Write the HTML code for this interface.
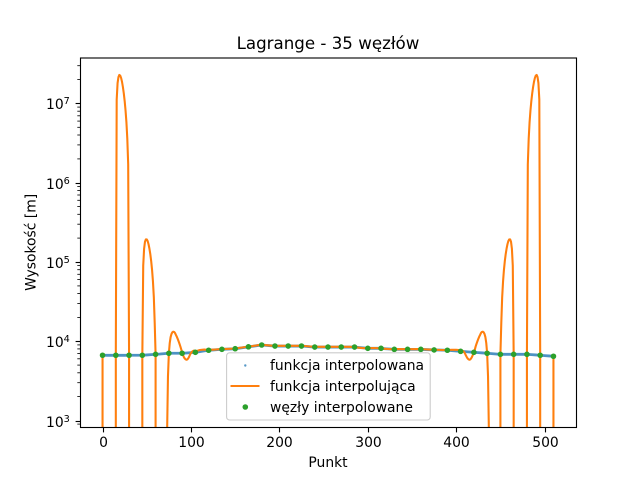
<!DOCTYPE html>
<html lang="pl">
<head>
<meta charset="utf-8">
<title>Lagrange - 35 węzłów</title>
<style>
html,body{margin:0;padding:0;background:#fff;overflow:hidden;width:640px;height:480px;}
svg{display:block;}
text{font-family:"DejaVu Sans","Liberation Sans",sans-serif;fill:#000;}
</style>
</head>
<body>
<svg id="chart" width="640" height="480" viewBox="0 0 640 480" xmlns="http://www.w3.org/2000/svg">
  <defs>
    <clipPath id="plot-clip"><rect x="80" y="57.6" width="496" height="369.6"></rect></clipPath>
  </defs>
  <rect x="0" y="0" width="640" height="480" fill="#fff"></rect>
  <g id="series" clip-path="url(#plot-clip)"></g>
  <g id="axes"></g>
  <text x="328" y="49" font-size="16.67" text-anchor="middle">Lagrange - 35 węzłów</text>
  <text x="328" y="467" font-size="13.89" text-anchor="middle">Punkt</text>
  <text transform="translate(35.5 242.4) rotate(-90)" font-size="13.89" text-anchor="middle">Wysokość [m]</text>
  <g>
    <rect x="226.6" y="352.8" width="203.6" height="67.2" rx="3" fill="#fff" fill-opacity="0.8" stroke="#ccc" stroke-width="1.1"></rect>
    <circle cx="245.3" cy="365.5" r="1.2" fill="#1f77b4" fill-opacity="0.75"></circle>
    <text x="270" y="370" font-size="13.89">funkcja interpolowana</text>
    <line x1="230.5" x2="259.5" y1="386" y2="386" stroke="#ff7f0e" stroke-width="2.08"></line>
    <text x="270" y="391" font-size="13.89">funkcja interpolująca</text>
    <circle cx="245.3" cy="407" r="2.8" fill="#2ca02c"></circle>
    <text x="270" y="412" font-size="13.89">węzły interpolowane</text>
  </g>
</svg>
<script>
const xTicks = [0, 100, 200, 300, 400, 500];
const yTickExponents = [3, 4, 5, 6, 7];
const yMinorMultipliers = [2, 3, 4, 5, 6, 7, 8, 9];

const blueX = [0,5,10,15,20,25,30,35,40,45,50,55,60,65,70,75,80,85,90,95,100,105,110,115,120,125,130,135,140,145,150,155,160,165,170,175,180,185,190,195,200,205,210,215,220,225,230,235,240,245,250,255,260,265,270,275,280,285,290,295,300,305,310,315,320,325,330,335,340,345,350,355,360,365,370,375,380,385,390,395,400,405,410,415,420,425,430,435,440,445,450,455,460,465,470,475,480,485,490,495,500,505,510];
const blueY = [6660,6650,6650,6660,6650,6650,6660,6660,6660,6660,6720,6780,6840,6900,6980,7050,7050,7050,7050,7110,7180,7250,7400,7550,7700,7770,7840,7910,7960,8000,8050,8200,8350,8500,8650,8820,8970,8880,8790,8700,8700,8700,8700,8700,8700,8700,8620,8530,8450,8450,8450,8450,8450,8450,8450,8450,8450,8450,8350,8240,8140,8140,8140,8140,8050,7980,7900,7900,7900,7900,7900,7900,7900,7860,7820,7770,7750,7720,7700,7620,7540,7460,7390,7320,7250,7180,7120,7050,6980,6910,6840,6840,6840,6840,6840,6840,6840,6780,6720,6660,6590,6530,6460];

const orangeX = [0,1,14,15,16,17,18,19,20,21,22,23,24,25,26,27,28,29,30,31,44,45,46,47,48,49,50,51,52,53,54,55,56,57,58,59,60,61,72,73,74,75,76,77,78,79,80,81,82,83,84,85,86,87,88,89,90,91,92,93,94,95,96,97,98,99,100,101,102,103,104,105,107,110,115,120,125,130,135,140,145,150,155,160,165,170,175,180,185,190,195,200,205,210,215,220,225,230,235,240,245,250,255,260,265,270,275,280,285,290,295,300,305,310,315,320,325,330,335,340,345,350,355,360,365,370,375,380,385,390,395,400,403,405,406,407,408,409,410,411,412,413,414,415,416,417,418,419,420,421,422,423,424,425,426,427,428,429,430,431,432,433,434,435,436,437,438,449,450,451,452,453,454,455,456,457,458,459,460,461,462,463,464,465,466,479,480,481,482,483,484,485,486,487,488,489,490,491,492,493,494,495,496,509,510];
const orangeY = [6660,-1000,-1000,6660,11200000,18100000,21600000,22900000,22500000,21000000,18800000,16200000,13500000,10800000,8200000,5800000,3600000,1700000,6660,-1000,-1000,6660,90000,147000,180000,193000,193000,184000,168000,148000,126000,103000,79600,57000,36000,17000,6840,-1000,-500,700,3600,7050,9500,11300,12400,13000,13200,13100,12700,12000,11400,10700,10000,9300,8600,7900,7250,6700,6300,6050,5900,5850,5900,6100,6400,6800,7100,7350,7500,7600,7600,7350,7550,7750,7850,7750,7830,7900,7960,8000,8040,8100,8250,8400,8550,8700,8880,9030,8920,8830,8750,8760,8750,8760,8750,8760,8750,8680,8580,8500,8500,8510,8500,8510,8500,8510,8500,8500,8400,8290,8190,8190,8200,8190,8100,8030,7950,7950,7960,7950,7960,7950,7960,7950,7900,7860,7820,7780,7740,7750,7800,7800,7750,7460,7600,7600,7500,7300,7000,6600,6300,6050,5900,5850,5900,6100,6400,6800,7250,7800,8600,9300,10000,10700,11400,12000,12700,13100,13200,13000,12400,11300,9500,7050,3600,700,-500,-1000,6840,17000,36000,57000,79600,103000,126000,148000,168000,184000,193000,193000,180000,147000,90000,6840,-1000,-1000,6840,1700000,3600000,5800000,8200000,10800000,13500000,16200000,18800000,21000000,22500000,22900000,21600000,18100000,11200000,6660,-1000,-1000,6460];

const nodeX = [0,15,30,45,60,75,90,105,120,135,150,165,180,195,210,225,240,255,270,285,300,315,330,345,360,375,390,405,420,435,450,465,480,495,510];
const nodeY = [6660,6660,6660,6660,6840,7050,7050,7250,7700,7910,8050,8500,8970,8700,8700,8700,8450,8450,8450,8450,8140,8140,7900,7900,7900,7770,7700,7460,7250,7050,6840,6840,6840,6660,6460];

const SVG_NS = 'http://www.w3.org/2000/svg';
const PLOT = { left: 80, right: 576, top: 57.6, bottom: 427.2 };
const X_MIN = -25.5, X_MAX = 535.5;
const LOG_MIN = 2.9155, LOG_MAX = 7.579;

function xScale(v) {
  return PLOT.left + (v - X_MIN) / (X_MAX - X_MIN) * (PLOT.right - PLOT.left);
}
function yScale(v) {
  if (v <= 0) return PLOT.bottom + 12;
  return PLOT.bottom - (Math.log10(v) - LOG_MIN) / (LOG_MAX - LOG_MIN) * (PLOT.bottom - PLOT.top);
}
function make(tag, attrs, parent, content) {
  const el = document.createElementNS(SVG_NS, tag);
  for (const k in attrs) el.setAttribute(k, attrs[k]);
  if (content !== undefined) el.textContent = content;
  parent.appendChild(el);
  return el;
}
function pointsOf(xs, ys) {
  return xs.map(function (x, i) {
    let px = x;
    if (ys[i] <= 0) {
      if (i > 0 && ys[i - 1] > 0) px = xs[i - 1];
      else if (i < xs.length - 1 && ys[i + 1] > 0) px = xs[i + 1];
    }
    return xScale(px).toFixed(2) + ',' + yScale(ys[i]).toFixed(2);
  }).join(' ');
}

const seriesGroup = document.getElementById('series');
const axesGroup = document.getElementById('axes');

const blueLine = make('polyline', { points: pointsOf(blueX, blueY), fill: 'none', stroke: '#1f77b4', 'stroke-width': 2.8, 'stroke-opacity': 0.8, 'stroke-linejoin': 'round' }, seriesGroup);



const orangeLine = make('polyline', { points: pointsOf(orangeX, orangeY), fill: 'none', stroke: '#ff7f0e', 'stroke-width': 2.08, 'stroke-linejoin': 'round' }, seriesGroup);



nodeX.forEach(function (x, i) {
  const node = make('circle', { cx: xScale(x).toFixed(2), cy: yScale(nodeY[i]).toFixed(2), r: 2.8, fill: '#2ca02c' }, seriesGroup);
  
  
});

xTicks.forEach(function (t) {
  const px = Math.round(xScale(t)) + 0.5;
  const tick = make('line', { x1: px, x2: px, y1: 427.5, y2: 432.4, stroke: '#000', 'stroke-width': 1.11 }, axesGroup);
  
  
  const label = make('text', { x: px, y: 447, 'font-size': 13.89, 'text-anchor': 'middle' }, axesGroup, String(t));
  
  
});

yTickExponents.forEach(function (e) {
  const py = Math.round(yScale(Math.pow(10, e))) + 0.5;
  const tick = make('line', { x1: 75.6, x2: 80.5, y1: py, y2: py, stroke: '#000', 'stroke-width': 1.11 }, axesGroup);
  
  
  const base = make('text', { x: 46, y: py + 5.5, 'font-size': 13.89 }, axesGroup, '10');
  
  
  const power = make('text', { x: 63.6, y: py + 0.3, 'font-size': 9.72 }, axesGroup, String(e));
  
  
});

[2].concat(yTickExponents).forEach(function (e) {
  yMinorMultipliers.forEach(function (m) {
    const value = m * Math.pow(10, e);
    const py = yScale(value);
    if (py < PLOT.top || py > PLOT.bottom) return;
    const minor = make('line', { x1: 77.3, x2: 80.5, y1: py.toFixed(1), y2: py.toFixed(1), stroke: '#000', 'stroke-width': 0.83 }, axesGroup);
    
    
  });
});

const frame = make('rect', { x: 80.5, y: 58, width: 496, height: 369.5, fill: 'none', stroke: '#000', 'stroke-width': 1.11 }, axesGroup);


</script>
</body>
</html>
